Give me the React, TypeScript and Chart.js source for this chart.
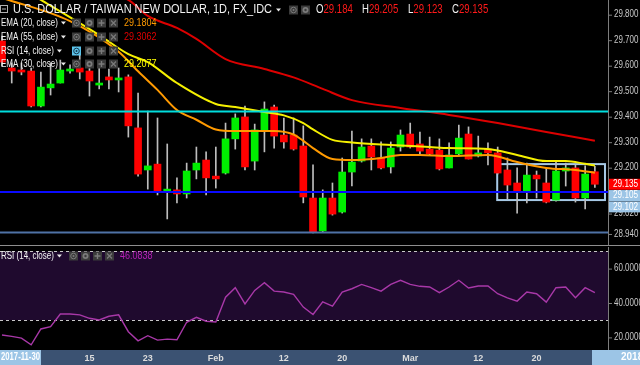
import React, { useEffect, useRef } from 'react';
import { Chart, registerables } from 'chart.js';

Chart.register(...registerables);

const FONT = "'Liberation Sans', Arial, sans-serif";

// Daily candles, 2018-01-02 .. 2018-03-28 (index 0..61)
const OPEN = [29.697, 29.591, 29.583, 29.579, 29.442, 29.513, 29.532, 29.579, 29.591, 29.579,
  29.524, 29.556, 29.544, 29.556, 29.356, 29.191, 29.214, 29.105, 29.113, 29.097,
  29.191, 29.230, 29.167, 29.179, 29.313, 29.399, 29.226, 29.348, 29.438, 29.328,
  29.328, 29.285, 29.081, 28.952, 29.081, 29.026, 29.183, 29.226, 29.285, 29.238,
  29.203, 29.281, 29.332, 29.293, 29.273, 29.269, 29.199, 29.254, 29.332, 29.246,
  29.273, 29.258, 29.191, 29.140, 29.105, 29.171, 29.140, 29.073, 29.187, 29.199,
  29.081, 29.184];
const HIGH = [29.716, 29.611, 29.611, 29.591, 29.575, 29.611, 29.622, 29.603, 29.650, 29.611,
  29.599, 29.587, 29.591, 29.564, 29.493, 29.422, 29.395, 29.293, 29.160, 29.218,
  29.281, 29.262, 29.281, 29.375, 29.411, 29.442, 29.371, 29.458, 29.446, 29.395,
  29.395, 29.364, 29.211, 29.113, 29.140, 29.238, 29.344, 29.313, 29.313, 29.301,
  29.301, 29.348, 29.375, 29.340, 29.320, 29.313, 29.297, 29.367, 29.360, 29.324,
  29.297, 29.281, 29.238, 29.199, 29.218, 29.187, 29.199, 29.222, 29.218, 29.211,
  29.207, 29.205];
const LOW = [29.599, 29.532, 29.564, 29.438, 29.438, 29.485, 29.532, 29.571, 29.548, 29.481,
  29.509, 29.509, 29.497, 29.320, 29.167, 29.116, 29.093, 28.999, 29.062, 29.081,
  29.156, 29.093, 29.120, 29.175, 29.273, 29.191, 29.191, 29.262, 29.277, 29.277,
  29.269, 29.062, 28.944, 28.948, 29.014, 29.022, 29.128, 29.222, 29.191, 29.195,
  29.179, 29.265, 29.277, 29.250, 29.250, 29.191, 29.199, 29.246, 29.234, 29.242,
  29.211, 29.175, 29.077, 29.022, 29.062, 29.081, 29.062, 29.069, 29.128, 29.065,
  29.038, 29.123];
const CLOSE = [29.614, 29.579, 29.575, 29.442, 29.516, 29.528, 29.583, 29.587, 29.575, 29.540,
  29.532, 29.544, 29.552, 29.364, 29.175, 29.207, 29.105, 29.116, 29.097, 29.187,
  29.218, 29.160, 29.156, 29.313, 29.395, 29.203, 29.348, 29.430, 29.324, 29.301,
  29.273, 29.085, 28.948, 29.081, 29.018, 29.183, 29.222, 29.281, 29.242, 29.199,
  29.277, 29.328, 29.281, 29.265, 29.254, 29.195, 29.250, 29.316, 29.234, 29.258,
  29.258, 29.179, 29.132, 29.105, 29.171, 29.156, 29.065, 29.187, 29.199, 29.081,
  29.175, 29.135];

// Moving averages (index -> value)
const EMA20_AT = [0, 7, 12, 14, 16, 18, 20, 22, 24, 28, 30, 31, 32, 34, 36, 39, 41, 43, 46, 50, 53, 56, 59, 61];
const EMA20 = [29.866, 29.775, 29.655, 29.578, 29.505, 29.426, 29.388, 29.350, 29.344, 29.344, 29.330, 29.305,
  29.277, 29.234, 29.230, 29.238, 29.250, 29.250, 29.246, 29.250, 29.222, 29.199, 29.191, 29.180];
const EMA30_AT = [0, 4, 10, 13, 15, 18, 22, 24, 27, 29, 31, 32, 34, 36, 40, 44, 46, 50, 53, 56, 58, 60, 61];
const EMA30 = [29.948, 29.858, 29.720, 29.645, 29.614, 29.532, 29.450, 29.438, 29.418, 29.405, 29.375, 29.350,
  29.309, 29.299, 29.289, 29.281, 29.277, 29.273, 29.250, 29.226, 29.226, 29.215, 29.208];
const EMA55_AT = [0, 7, 13, 15, 18, 20, 23, 27, 30, 33, 36, 41, 46, 51, 56, 61];
const EMA55 = [29.990, 29.930, 29.858, 29.795, 29.748, 29.705, 29.626, 29.587, 29.554, 29.509, 29.465,
  29.434, 29.407, 29.375, 29.340, 29.306];

const RSI = [21.4, 20.6, 19.6, 15.7, 24.9, 26.2, 33.6, 33.6, 33.1, 31.1,
  30.1, 32.3, 33.1, 23.3, 18.0, 21.0, 18.4, 19.0, 18.6, 28.8,
  31.7, 29.4, 29.0, 43.4, 48.9, 39.5, 47.3, 51.8, 46.9, 46.4,
  45.0, 37.6, 33.3, 40.7, 38.2, 46.4, 48.3, 50.8, 48.9, 46.9,
  50.8, 53.2, 50.8, 49.7, 49.3, 46.0, 49.3, 53.2, 48.7, 49.9,
  49.9, 45.4, 43.0, 41.1, 46.4, 45.4, 40.5, 48.9, 49.3, 43.0,
  48.9, 46.08];

const H_LINES = [29.42, 29.105, 28.946];
const H_LINE_COLORS = ['#00dede', '#0a0aff', '#4f72a6'];
const RANGE_BOX_X = [50.95, 62.04];
const RANGE_BOX_Y = [29.073, 29.214];

const PRICE_TICKS = [29.8, 29.7, 29.6, 29.5, 29.4, 29.3, 29.2, 29.02, 28.94];
const PRICE_MARKERS = [29.135, 29.105, 29.102];
const PRICE_MARKER_COLORS = ['#ff0000', '#9cc5e6', '#9cc5e6'];
const RSI_TICKS = [60, 40, 20];
const RSI_BANDS = [70, 30];

const X_TICK_INDEX = [9, 15, 22, 29, 35, 42, 49, 55];
const X_TICK_LABELS = ['15', '23', 'Feb', '12', '20', 'Mar', '12', '20'];
const LEFT_DATE = '2017-11-30';
const RIGHT_DATE = '2018-03-28';

const TITLE = 'U.S. DOLLAR / TAIWAN NEW DOLLAR, 1D, FX_IDC';
const LEGEND_ROWS = [
  { label: 'EMA (20, close)', value: '29.1804', color: '#ff9a00' },
  { label: 'EMA (55, close)', value: '29.3062', color: '#e00000' },
  { label: 'RSI (14, close)', value: '', color: '#fff' },
  { label: 'EMA (30, close)', value: '29.2077', color: '#ffff00' },
];
const RSI_VALUE_LABEL = '46.0838';

const X_MIN = -0.206;
const X_MAX = 62.35;
const PRICE_MIN = 28.8968;
const PRICE_MAX = 29.8576;
const RSI_MIN = 12.67;
const RSI_MAX = 72.56;

const AXIS_COLOR = '#7d7d7d';
const LABEL_COLOR = '#c8c8c8';

function txt(ctx: any, s: string, x: number, y: number, color: string, size: number, k = 0.8, weight = 'normal', target?: number) {
  ctx.save();
  ctx.font = `${weight} ${size}px ${FONT}`;
  ctx.fillStyle = color;
  ctx.textBaseline = 'middle';
  ctx.textAlign = 'left';
  const w = ctx.measureText(s).width;
  const kk = target ? target / w : k;
  ctx.translate(x, y);
  ctx.scale(kk, 1);
  ctx.fillText(s, 0, 0);
  ctx.restore();
  return w * kk;
}

function caret(ctx: any, x: number, y: number) {
  ctx.save();
  ctx.fillStyle = '#e8e8e8';
  ctx.beginPath();
  ctx.moveTo(x, y - 1.5);
  ctx.lineTo(x + 5, y - 1.5);
  ctx.lineTo(x + 2.5, y + 1.5);
  ctx.closePath();
  ctx.fill();
  ctx.restore();
}

function icon(ctx: any, x: number, yc: number, kind: string, active = false) {
  ctx.save();
  ctx.fillStyle = active ? '#5cc3ea' : '#3b3b3b';
  ctx.fillRect(x, yc - 4.5, 9, 9);
  const fg = active ? '#17384d' : '#7b7b7b';
  ctx.strokeStyle = fg;
  ctx.fillStyle = fg;
  ctx.lineWidth = 1;
  const cx = x + 4.5;
  ctx.beginPath();
  if (kind === 'eye') {
    ctx.arc(cx, yc, 2.8, 0, Math.PI * 2);
    ctx.stroke();
    ctx.beginPath();
    ctx.arc(cx, yc, 1, 0, Math.PI * 2);
    ctx.fill();
  } else if (kind === 'gear') {
    ctx.arc(cx, yc, 3, 0, Math.PI * 2);
    ctx.fill();
    ctx.fillStyle = '#3b3b3b';
    ctx.beginPath();
    ctx.arc(cx, yc, 1.2, 0, Math.PI * 2);
    ctx.fill();
  } else if (kind === 'plus') {
    ctx.lineWidth = 1.4;
    ctx.moveTo(cx - 3, yc); ctx.lineTo(cx + 3, yc);
    ctx.moveTo(cx, yc - 3); ctx.lineTo(cx, yc + 3);
    ctx.stroke();
  } else {
    ctx.lineWidth = 1.2;
    ctx.moveTo(cx - 2.5, yc - 2.5); ctx.lineTo(cx + 2.5, yc + 2.5);
    ctx.moveTo(cx + 2.5, yc - 2.5); ctx.lineTo(cx - 2.5, yc + 2.5);
    ctx.stroke();
  }
  ctx.restore();
}

const pricePanelPlugin = {
  id: 'pricePanel',
  beforeDraw(chart: any) {
    const { ctx, width, height } = chart;
    ctx.save();
    ctx.fillStyle = '#000';
    ctx.fillRect(0, 0, width, height);
    ctx.restore();
  },
  beforeDatasetsDraw(chart: any) {
    const { ctx, scales } = chart;
    const x0 = scales.x.getPixelForValue(RANGE_BOX_X[0]);
    const x1 = scales.x.getPixelForValue(RANGE_BOX_X[1]);
    const y0 = scales.y.getPixelForValue(RANGE_BOX_Y[1]);
    const y1 = scales.y.getPixelForValue(RANGE_BOX_Y[0]);
    ctx.save();
    ctx.strokeStyle = '#a7c9e6';
    ctx.lineWidth = 2;
    ctx.strokeRect(x0, y0, x1 - x0, y1 - y0);
    ctx.restore();
  },
  afterDraw(chart: any) {
    const { ctx, scales, chartArea } = chart;
    const ys = scales.y;
    const axisX = chartArea.right;
    // price tick labels
    PRICE_TICKS.forEach((v) => {
      const py = ys.getPixelForValue(v);
      ctx.save();
      ctx.strokeStyle = AXIS_COLOR;
      ctx.beginPath();
      ctx.moveTo(axisX, py + 0.5);
      ctx.lineTo(axisX + 4, py + 0.5);
      ctx.stroke();
      ctx.restore();
      txt(ctx, v.toFixed(3), axisX + 6, py, LABEL_COLOR, 10, 0.8);
    });
    // last price / line markers
    let prev = -Infinity;
    PRICE_MARKERS.forEach((v, i) => {
      const cy = Math.max(ys.getPixelForValue(v), prev + 11.3);
      prev = cy;
      ctx.save();
      ctx.fillStyle = PRICE_MARKER_COLORS[i];
      ctx.fillRect(axisX + 1, cy - 5.5, 40, 11);
      ctx.restore();
      txt(ctx, v.toFixed(3), axisX + 5, cy, '#ffffff', 10, 0.82);
    });
    // legend
    ctx.save();
    ctx.strokeStyle = '#b0b0b0';
    ctx.lineWidth = 1;
    ctx.strokeRect(0.5, 5.5, 7, 7);
    ctx.beginPath();
    ctx.moveTo(2, 9); ctx.lineTo(6, 9);
    ctx.stroke();
    ctx.restore();
    txt(ctx, TITLE, 13, 10, '#f2f2f2', 12, 0.8, 'normal', 259);
    caret(ctx, 276, 10);
    icon(ctx, 289, 10, 'eye');
    icon(ctx, 301, 10, 'gear');
    const ohlc = [['O', OPEN[OPEN.length - 1]], ['H', HIGH[HIGH.length - 1]], ['L', LOW[LOW.length - 1]], ['C', CLOSE[CLOSE.length - 1]]];
    const ohlcX = [316, 362, 408, 452];
    ohlc.forEach(([k, v], i) => {
      const w = txt(ctx, k as string, ohlcX[i], 10, '#f2f2f2', 12, 0.8);
      txt(ctx, (v as number).toFixed(3), ohlcX[i] + w, 10, '#ff1a1a', 12, 0.8);
    });
    const rowY = [23, 37, 51, 64];
    LEGEND_ROWS.forEach((r, i) => {
      const y = rowY[i];
      const w = txt(ctx, r.label, 1, y, '#f2f2f2', 10, 0.8);
      caret(ctx, w + 4, y);
      icon(ctx, 72, y, 'eye', i === 2);
      icon(ctx, 85, y, 'gear');
      icon(ctx, 97, y, 'plus');
      icon(ctx, 109, y, 'x');
      if (r.value) txt(ctx, r.value, 124, y, r.color, 11, 0.82);
    });
  },
};

const rsiPanelPlugin = {
  id: 'rsiPanel',
  beforeDraw(chart: any) {
    const { ctx, width, height, chartArea } = chart;
    ctx.save();
    ctx.fillStyle = '#000';
    ctx.fillRect(0, 0, width, height);
    ctx.fillStyle = '#3b5272';
    ctx.fillRect(0, chartArea.bottom, width, height - chartArea.bottom);
    ctx.restore();
  },
  beforeDatasetsDraw(chart: any) {
    const { ctx, scales, chartArea } = chart;
    const yTop = scales.y.getPixelForValue(RSI_BANDS[0]);
    const yBot = scales.y.getPixelForValue(RSI_BANDS[1]);
    ctx.save();
    ctx.fillStyle = '#1f0a2e';
    ctx.fillRect(chartArea.left, yTop, chartArea.right - chartArea.left, yBot - yTop);
    ctx.strokeStyle = '#c8c8c8';
    ctx.lineWidth = 1;
    ctx.setLineDash([3, 3]);
    [yTop, yBot].forEach((yy) => {
      ctx.beginPath();
      ctx.moveTo(chartArea.left, Math.round(yy) + 0.5);
      ctx.lineTo(chartArea.right, Math.round(yy) + 0.5);
      ctx.stroke();
    });
    ctx.restore();
  },
  afterDraw(chart: any) {
    const { ctx, scales, chartArea, width, height } = chart;
    const axisX = chartArea.right;
    // panel separator
    ctx.save();
    ctx.strokeStyle = '#8e8e8e';
    ctx.lineWidth = 1;
    ctx.beginPath();
    ctx.moveTo(0, 0.5);
    ctx.lineTo(width, 0.5);
    ctx.stroke();
    ctx.restore();
    RSI_TICKS.forEach((v) => {
      const py = scales.y.getPixelForValue(v);
      ctx.save();
      ctx.strokeStyle = AXIS_COLOR;
      ctx.beginPath();
      ctx.moveTo(axisX, py + 0.5);
      ctx.lineTo(axisX + 4, py + 0.5);
      ctx.stroke();
      ctx.restore();
      txt(ctx, v.toFixed(4), axisX + 6, py, LABEL_COLOR, 10, 0.8);
    });
    // legend
    const w = txt(ctx, 'RSI (14, close)', 1, 11, '#f2f2f2', 10, 0.8);
    caret(ctx, w + 4, 11);
    icon(ctx, 69, 11, 'eye');
    icon(ctx, 81, 11, 'gear');
    icon(ctx, 93, 11, 'plus');
    icon(ctx, 105, 11, 'x');
    txt(ctx, RSI_VALUE_LABEL, 120, 11, '#b41fb4', 11, 0.82);
    // date boxes on the time axis
    const by = chartArea.bottom;
    const bh = height - by;
    ctx.save();
    ctx.fillStyle = '#9cc5e6';
    ctx.fillRect(0, by, 41, bh);
    ctx.fillRect(592, by, width - 592, bh);
    ctx.restore();
    txt(ctx, LEFT_DATE, 1, by + bh / 2, '#ffffff', 10, 0.8, 'bold', 39);
    txt(ctx, RIGHT_DATE, 621, by + bh / 2, '#ffffff', 10, 1, 'bold');
  },
};

export default function App() {
  const priceRef = useRef<HTMLCanvasElement>(null);
  const rsiRef = useRef<HTMLCanvasElement>(null);

  useEffect(() => {
    const bodies = CLOSE.map((c, i) => ({ x: i, y: [OPEN[i], c] }));
    const bodyColors = CLOSE.map((c, i) => (c >= OPEN[i] ? '#00ee00' : '#ff0000'));
    const wicks = CLOSE.map((_, i) => ({ x: i, y: [LOW[i], HIGH[i]] }));
    const lineDs = (xs: number[], ys: number[], color: string) => ({
      type: 'line',
      data: xs.map((x, i) => ({ x, y: ys[i] })),
      borderColor: color,
      borderWidth: 2,
      pointRadius: 0,
      cubicInterpolationMode: 'monotone',
      order: 0,
    });
    const hLines = H_LINES.map((v, i) => ({
      type: 'line',
      data: [{ x: X_MIN, y: v }, { x: X_MAX, y: v }],
      borderColor: H_LINE_COLORS[i],
      borderWidth: 2,
      pointRadius: 0,
      order: 0,
    }));

    const price = new Chart(priceRef.current as any, {
      type: 'bar',
      data: {
        datasets: [
          ...hLines,
          lineDs(EMA20_AT, EMA20, '#ff9a00'),
          lineDs(EMA30_AT, EMA30, '#f5f000'),
          lineDs(EMA55_AT, EMA55, '#dd0000'),
          { type: 'bar', data: bodies, backgroundColor: bodyColors, barThickness: 7, minBarLength: 2, order: 1 },
          { type: 'bar', data: wicks, backgroundColor: '#bdbdbd', barThickness: 1, order: 2 },
        ] as any,
      },
      options: {
        responsive: false,
        animation: false,
        events: [],
        layout: { padding: 0 },
        plugins: { legend: { display: false }, tooltip: { enabled: false } },
        scales: {
          x: { type: 'linear', min: X_MIN, max: X_MAX, display: false, stacked: true, offset: false, bounds: 'data' },
          y: {
            type: 'linear', position: 'right', min: PRICE_MIN, max: PRICE_MAX, stacked: false, bounds: 'data',
            grid: { display: false, drawTicks: false },
            ticks: { display: false },
            border: { display: true, color: AXIS_COLOR },
            afterFit: (s: any) => { s.width = 32; },
          },
        },
      } as any,
      plugins: [pricePanelPlugin],
    });

    const rsi = new Chart(rsiRef.current as any, {
      type: 'line',
      data: {
        datasets: [
          {
            data: RSI.map((v, i) => ({ x: i, y: v })),
            borderColor: '#a838a8',
            borderWidth: 1.4,
            pointRadius: 0,
            tension: 0,
          },
        ],
      },
      options: {
        responsive: false,
        animation: false,
        events: [],
        layout: { padding: { top: 2, left: 0, right: 0, bottom: 0 } },
        plugins: { legend: { display: false }, tooltip: { enabled: false } },
        scales: {
          x: {
            type: 'linear', position: 'bottom', min: X_MIN, max: X_MAX, offset: false, bounds: 'data',
            grid: { display: false, drawTicks: false },
            border: { display: false },
            ticks: {
              color: '#dcdcdc', font: { size: 9, weight: 'bold', family: FONT }, padding: 3,
              autoSkip: false, maxRotation: 0,
              callback: (_v: any, i: number) => X_TICK_LABELS[i] ?? '',
            },
            afterBuildTicks: (s: any) => { s.ticks = X_TICK_INDEX.map((v) => ({ value: v })); },
            afterFit: (s: any) => { s.height = 15; },
          },
          y: {
            type: 'linear', position: 'right', min: RSI_MIN, max: RSI_MAX, bounds: 'data',
            grid: { display: false, drawTicks: false },
            ticks: { display: false },
            border: { display: true, color: AXIS_COLOR },
            afterFit: (s: any) => { s.width = 32; },
          },
        },
      } as any,
      plugins: [rsiPanelPlugin],
    });

    return () => {
      price.destroy();
      rsi.destroy();
    };
  }, []);

  return (
    <div style={{ width: 640, height: 365, background: '#000', overflow: 'hidden' }}>
      <style>{'html,body{margin:0;padding:0;background:#000;}'}</style>
      <canvas ref={priceRef} width={640} height={245} style={{ display: 'block' }} />
      <canvas ref={rsiRef} width={640} height={120} style={{ display: 'block' }} />
    </div>
  );
}
